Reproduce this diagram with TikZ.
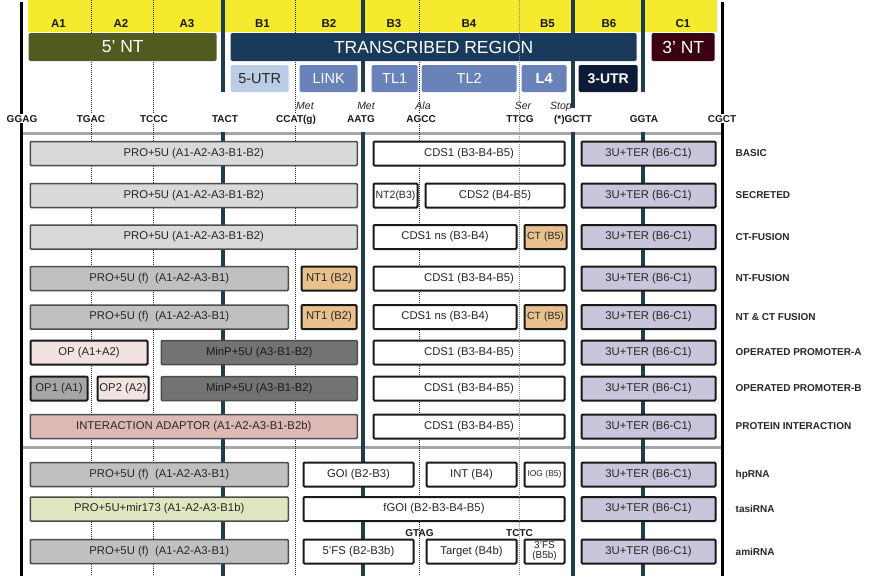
\documentclass[tikz,border=0pt]{standalone}
\usepackage{fontspec}
\setmainfont{Liberation Sans}
\usepackage{tikz}
\usetikzlibrary{positioning}

\definecolor{bandyellow}{HTML}{F5EA2E}
\definecolor{ntolive}{HTML}{4F5B1F}
\definecolor{trnavy}{HTML}{1A3A5C}
\definecolor{ntmaroon}{HTML}{3B0012}
\definecolor{utrlight}{HTML}{BACDE4}
\definecolor{linkblue}{HTML}{6982BA}
\definecolor{utrdark}{HTML}{0D1B38}
\definecolor{tealdark}{HTML}{1F3D4B}
\definecolor{lgray}{HTML}{D9D9D9}
\definecolor{mgray}{HTML}{C0C0C0}
\definecolor{dgray}{HTML}{737373}
\definecolor{opgray}{HTML}{A6A6A6}
\definecolor{palepink}{HTML}{F2E2E2}
\definecolor{rosy}{HTML}{DDB9B6}
\definecolor{tan}{HTML}{E8C18D}
\definecolor{lavender}{HTML}{C9C5DB}
\definecolor{palegreen}{HTML}{DFE7C0}

\newcommand{\fsz}[1]{\fontsize{#1}{#1}\selectfont}

\begin{document}
\begin{tikzpicture}[x=1pt, y=-1pt,
    part/.style={draw=black!70, line width=1.5pt, rounded corners=1pt, anchor=west,
                 minimum height=24pt, inner sep=0pt, font=\fsz{11.3}, text=black!85},
    strong/.style={part, draw=black!90, line width=2pt},
    banner/.style={anchor=west, rounded corners=1.5pt, inner sep=0pt, minimum height=28pt,
                   text=white, font=\fsz{17.5}},
    region/.style={anchor=west, rounded corners=1.5pt, inner sep=0pt, minimum height=27pt,
                   text=white, font=\fsz{14.5}},
    head/.style={font=\bfseries\fsz{11.5}, text=black!90, anchor=base, inner sep=0pt},
    codon/.style={font=\bfseries\fsz{10}, fill=white, inner sep=1pt, text=black!90, anchor=base},
    amino/.style={font=\itshape\fsz{10.5}, inner sep=0pt, text=black!85, anchor=base},
    rowlab/.style={font=\bfseries\fsz{10}, inner sep=0pt, anchor=west, text=black!85},
    dotline/.style={black!85, line width=0.9pt, dash pattern=on 1pt off 1pt},
    edgeline/.style={black, line width=3pt},
    tealline/.style={tealdark, line width=3.5pt},
    sepline/.style={black!35, line width=3pt}]

  \useasboundingbox (0,0) rectangle (870,576);

  % header band
  \fill[bandyellow] (28,0) rectangle (717,32);
  \foreach \x/\t in {58.5/A1, 121/A2, 187/A3, 262.5/B1, 329/B2, 394/B3,
                     469/B4, 547.5/B5, 609/B6, 683/C1}
    \node[head] (hd-\t) at (\x,27) {\t};

  % separators
  \draw[sepline] (22,133) -- (722,133);
  \draw[sepline] (22,447) -- (722,447);

  % boundaries
  \foreach \x in {91,153,295,419}
    \draw[dotline] (\x,0) -- (\x,576);
  \foreach \x in {21,722}
    \draw[edgeline] (\x,2) -- (\x,576);
  \foreach \x in {223,363,643}
  {
    \draw[tealline] (\x,0) -- (\x,92);
    \draw[tealline] (\x,132) -- (\x,576);
  }
  \draw[tealline] (573,0) -- (573,108);
  \draw[tealline] (573,132) -- (573,576);

  % regions
  \node[banner, fill=ntolive, minimum width=188pt] (fivent) at (28.5,47) {5’ NT};
  \node[banner, fill=trnavy, minimum width=406pt] (trans) at (230.5,47) {TRANSCRIBED REGION};
  \node[banner, fill=ntmaroon, minimum width=63pt] (threent) at (651.5,47) {3’ NT};

  \node[region, fill=utrlight, text=black!85, minimum width=58pt] (utr5) at (230.5,78.5) {5-UTR};
  \node[region, fill=linkblue, minimum width=58pt] (link) at (299.5,78.5) {LINK};
  \node[region, fill=linkblue, minimum width=46pt] (tl1) at (371.5,78.5) {TL1};
  \node[region, fill=linkblue, minimum width=95pt] (tl2) at (421.5,78.5) {TL2};
  \node[region, fill=linkblue, minimum width=45pt, font=\bfseries\fsz{14.5}] (l4) at (521.5,78.5) {L4};
  \node[region, fill=utrdark, minimum width=59pt, font=\bfseries\fsz{14}] (utr3) at (578.5,78.5) {3-UTR};

  % overhangs
  \foreach \x/\t [count=\i] in {22/GGAG, 91/TGAC, 154/TCCC, 225/TACT, 296/CCAT(g),
                                361/AATG, 421/AGCC, 520/TTCG, 573/(*)GCTT, 644/GGTA, 722/CGCT}
    \node[codon] (oh\i) at (\x,122) {\t};
  \node[amino, anchor=base west] (met1) at (296,109) {Met};
  \node[amino] (met2) at (366,109) {Met};
  \node[amino] (ala) at (423,109) {Ala};
  \node[amino] (ser) at (523,109) {Ser};
  \node[amino] (stop) at (561,109) {Stop};

  % promoter parts
  \foreach \y [count=\i] in {153.5,195.5,237}
    \node[part, fill=lgray, minimum width=327pt] (pro\i) at (29.5,\y) {PRO+5U (A1-A2-A3-B1-B2)};
  \foreach \y [count=\i] in {278.5,317,474.5,551.5}
    \node[part, fill=mgray, minimum width=258pt] (prof\i) at (29.5,\y) {PRO+5U (f)\ \ (A1-A2-A3-B1)};
  \node[strong, fill=palepink, minimum width=117pt] (op) at (29.5,352.5) {OP (A1+A2)};
  \node[strong, fill=opgray, minimum width=57pt] (op1) at (29.5,388.5) {OP1 (A1)};
  \node[strong, fill=palepink, minimum width=51pt] (op2) at (96.5,388.5) {OP2 (A2)};
  \foreach \y [count=\i] in {352.5,388.5}
    \node[part, fill=dgray, text=black!90, minimum width=196pt] (minp\i) at (160.5,\y) {MinP+5U (A3-B1-B2)};
  \node[part, fill=rosy, minimum width=327pt] (adapt) at (29.5,426.5) {INTERACTION ADAPTOR (A1-A2-A3-B1-B2b)};
  \node[part, fill=palegreen, minimum width=258pt] (mir) at (29.5,509) {PRO+5U+mir173 (A1-A2-A3-B1b)};
  \foreach \y [count=\i] in {278.5,317}
    \node[strong, fill=tan, minimum width=55pt] (nt\i) at (300.5,\y) {NT1 (B2)};

  % coding parts
  \foreach \y [count=\i] in {153.5,278.5,352.5,388.5,426.5}
    \node[strong, fill=white, minimum width=191pt] (cds\i) at (372.5,\y) {CDS1 (B3-B4-B5)};
  \node[strong, fill=white, minimum width=44pt, font=\fsz{10.5}] (nt2) at (372.5,195.5) {NT2(B3)};
  \node[strong, fill=white, minimum width=139pt] (cds2) at (424.5,195.5) {CDS2 (B4-B5)};
  \foreach \y [count=\i] in {237,317}
  {
    \node[strong, fill=white, minimum width=143pt] (cdsns\i) at (372.5,\y) {CDS1 ns (B3-B4)};
    \node[strong, fill=tan, minimum width=42pt, font=\fsz{10.5}] (ct\i) at (523.5,\y) {CT (B5)};
  }

  % rna parts
  \node[strong, fill=white, minimum width=110pt] (goi) at (302.5,474.5) {GOI (B2-B3)};
  \node[strong, fill=white, minimum width=90pt] (int) at (425.5,474.5) {INT (B4)};
  \node[strong, fill=white, minimum width=40pt, font=\fsz{8.5}] (iog) at (523.5,474.5) {IOG (B5)};
  \node[strong, fill=white, minimum width=261pt] (fgoi) at (302.5,509) {fGOI (B2-B3-B4-B5)};
  \node[strong, fill=white, minimum width=110pt] (fs5) at (302.5,551.5) {5’FS (B2-B3b)};
  \node[strong, fill=white, minimum width=90pt] (target) at (425.5,551.5) {Target (B4b)};
  \node[strong, fill=white, minimum width=40pt, font=\fsz{10}, align=center] (fs3) at (523.5,551.5) {3’FS\\(B5b)};
  \node[codon, fill=none] (gtag) at (419.5,536) {GTAG};
  \node[codon, fill=none] (tctc) at (519.5,536) {TCTC};

  % B4/B5 boundary over the parts
  \draw[dotline, black!45] (519,0) -- (519,576);

  % terminators and names
  \foreach \y/\lab [count=\i] in {153.5/BASIC, 195.5/SECRETED, 237/CT-FUSION, 278.5/NT-FUSION,
                                   317/NT \& CT FUSION, 352.5/OPERATED PROMOTER-A,
                                   388.5/OPERATED PROMOTER-B, 426.5/PROTEIN INTERACTION,
                                   474.5/hpRNA, 509/tasiRNA, 551.5/amiRNA}
  {
    \node[strong, fill=lavender, minimum width=134pt] (ter\i) at (580.5,\y) {3U+TER (B6-C1)};
    \node[rowlab, right=19pt of ter\i] (lab\i) {\lab};
  }
\end{tikzpicture}
\end{document}
